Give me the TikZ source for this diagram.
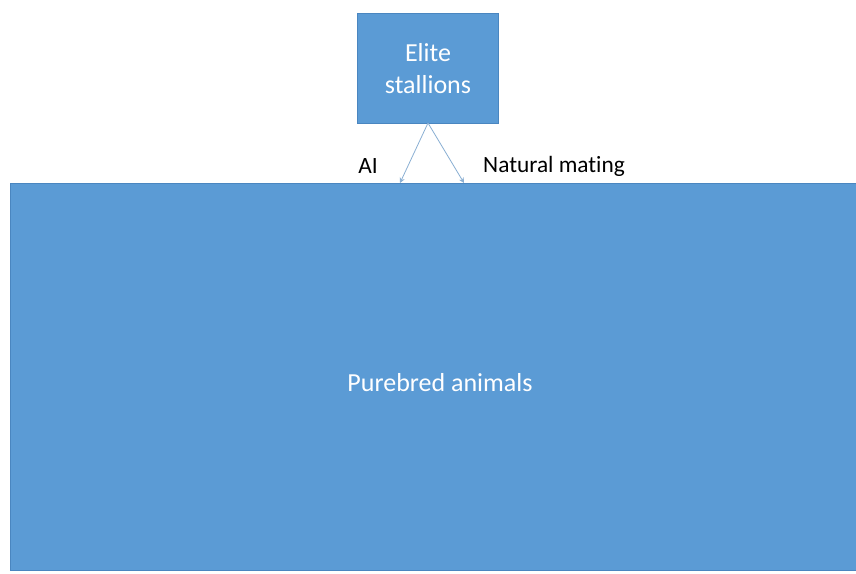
\documentclass[tikz,border=0pt]{standalone}
\usepackage{fontspec}
\setmainfont{Carlito}[Ligatures=CommonOff]
\usetikzlibrary{arrows.meta}
\definecolor{boxblue}{HTML}{5B9BD5}
\definecolor{boxedge}{HTML}{4A86C0}
\definecolor{arrowc}{HTML}{8AAFD3}
\begin{document}
\begin{tikzpicture}[x=0.75pt,y=-0.75pt,
  bluebox/.style={fill=boxblue,draw=boxedge,line width=0.6pt},
  wtext/.style={text=white,align=center,inner sep=0pt},
  lbl/.style={text=black,font=\fontsize{17.5}{20}\selectfont,inner sep=0pt},
  conn/.style={draw=arrowc,line width=0.6pt,-{Stealth[length=4pt,width=4pt]}}]
\useasboundingbox (0,0) rectangle (856,574);
\path[bluebox] (357,13) rectangle (498,123);
\node[wtext,font=\fontsize{19.5}{24}\selectfont] (elite) at (428,69) {Elite\\stallions};
\coordinate (apex) at (428,123);
\path[bluebox] (10,183) rectangle (856,570);
\node[wtext,font=\fontsize{19.5}{24}\selectfont] (pure) at (440,383) {Purebred animals};
\coordinate (t1) at (400,183);
\coordinate (t2) at (464,183);
\draw[conn] (apex) -- (t1);
\draw[conn] (apex) -- (t2);
\node[lbl] (ai) at (368,166) {AI};
\node[lbl] (nm) at (554,166) {Natural mating};
\end{tikzpicture}
\end{document}
